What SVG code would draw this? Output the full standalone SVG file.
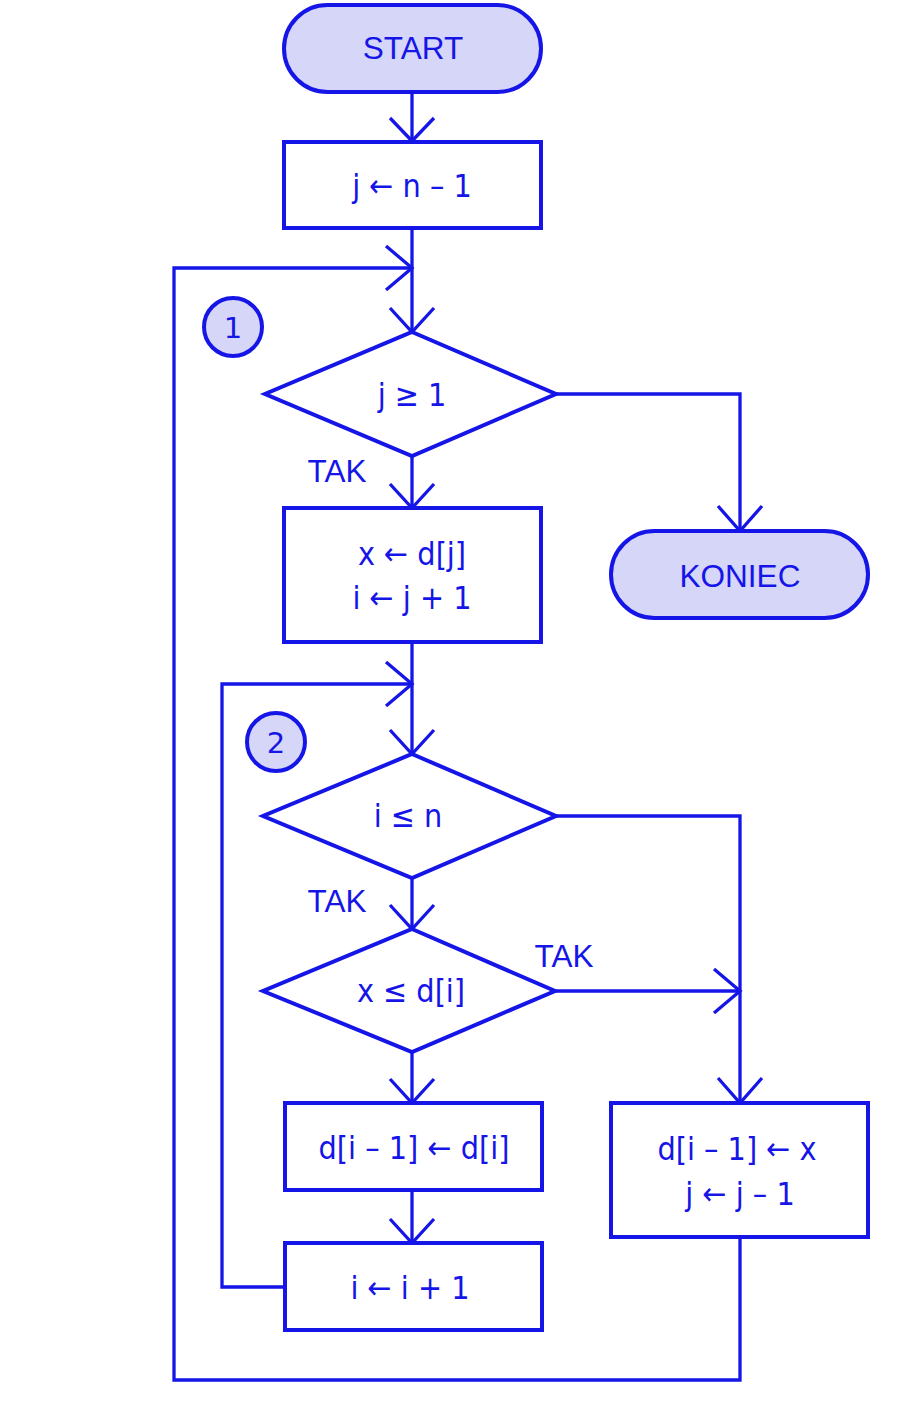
<svg xmlns="http://www.w3.org/2000/svg" width="900" height="1410" viewBox="0 0 900 1410">
<style>
.s{fill:#fff;stroke:#1515e8;stroke-width:4}
.t{fill:#d6d6f8;stroke:#1515e8;stroke-width:4}
.c{fill:none;stroke:#1515e8;stroke-width:3.3;stroke-linejoin:miter}
.ah{fill:none;stroke:#1515e8;stroke-width:3.3}
.lb{font-family:"Liberation Sans",Arial,sans-serif;font-size:31.5px;fill:#1515e8;text-anchor:middle}
.bx{font-family:"DejaVu Sans Condensed","DejaVu Sans",sans-serif;font-size:32px;fill:#1515e8;text-anchor:middle}
.nm{font-family:"DejaVu Sans",sans-serif;font-size:29px;fill:#1515e8;text-anchor:middle}
</style>
<rect width="900" height="1410" fill="#fff"/>
<g id="connectors">
<path class="c" d="M412 92V141"/>
<path class="ah" d="M390 118L412 141L434 118"/>
<path class="c" d="M412 228V332"/>
<path class="ah" d="M390 308L412 332L434 308"/>
<path class="c" d="M740 1237V1380H174V268H412"/>
<path class="ah" d="M386 246L412 268L386 290"/>
<path class="c" d="M556 394H740V531"/>
<path class="ah" d="M718 506L740 531L762 506"/>
<path class="c" d="M412 456V508"/>
<path class="ah" d="M390 484L412 508L434 484"/>
<path class="c" d="M412 642V754"/>
<path class="ah" d="M390 730L412 754L434 730"/>
<path class="c" d="M285 1287H222V684H412"/>
<path class="ah" d="M386 662L412 684L386 706"/>
<path class="c" d="M556 816H740V1103"/>
<path class="ah" d="M718 1078L740 1103L762 1078"/>
<path class="c" d="M412 878V929"/>
<path class="ah" d="M390 905L412 929L434 905"/>
<path class="c" d="M555 991H740"/>
<path class="ah" d="M714 969L740 991L714 1013"/>
<path class="c" d="M412 1052V1103"/>
<path class="ah" d="M390 1079L412 1103L434 1079"/>
<path class="c" d="M412 1190V1243"/>
<path class="ah" d="M390 1219L412 1243L434 1219"/>
<text class="lb" x="337" y="482">TAK</text>
<text class="lb" x="337" y="912">TAK</text>
<text class="lb" x="564" y="967">TAK</text>
</g>
<g id="start">
<rect class="t" x="284" y="5" width="257" height="87" rx="43.5"/>
<text class="lb" x="413" y="59">START</text>
</g>
<g id="init">
<rect class="s" x="284" y="142" width="257" height="86"/>
<text class="bx" x="412" y="197">j ← n – 1</text>
</g>
<g id="label1">
<circle class="t" cx="233" cy="327" r="29"/>
<text class="nm" x="233" y="338">1</text>
</g>
<g id="cond1">
<polygon class="s" points="412,332 556,394 412,456 265,394"/>
<text class="bx" x="412" y="406">j ≥ 1</text>
</g>
<g id="koniec">
<rect class="t" x="611" y="531" width="257" height="87" rx="43.5"/>
<text class="lb" x="740" y="587">KONIEC</text>
</g>
<g id="assign1">
<rect class="s" x="284" y="508" width="257" height="134"/>
<text class="bx" x="412" y="565">x ← d[j]</text>
<text class="bx" x="412" y="609">i ← j + 1</text>
</g>
<g id="label2">
<circle class="t" cx="276" cy="742" r="29"/>
<text class="nm" x="276" y="753">2</text>
</g>
<g id="cond2">
<polygon class="s" points="412,754 556,816 412,878 263,816"/>
<text class="bx" x="408" y="827">i ≤ n</text>
</g>
<g id="cond3">
<polygon class="s" points="412,929 555,991 412,1052 263,991"/>
<text class="bx" x="411" y="1002">x ≤ d[i]</text>
</g>
<g id="shift">
<rect class="s" x="285" y="1103" width="257" height="87"/>
<text class="bx" x="414" y="1159">d[i – 1] ← d[i]</text>
</g>
<g id="incr">
<rect class="s" x="285" y="1243" width="257" height="87"/>
<text class="bx" x="410" y="1299">i ← i + 1</text>
</g>
<g id="insert">
<rect class="s" x="611" y="1103" width="257" height="134"/>
<text class="bx" x="737" y="1160">d[i – 1] ← x</text>
<text class="bx" x="740" y="1205">j ← j – 1</text>
</g>
</svg>
